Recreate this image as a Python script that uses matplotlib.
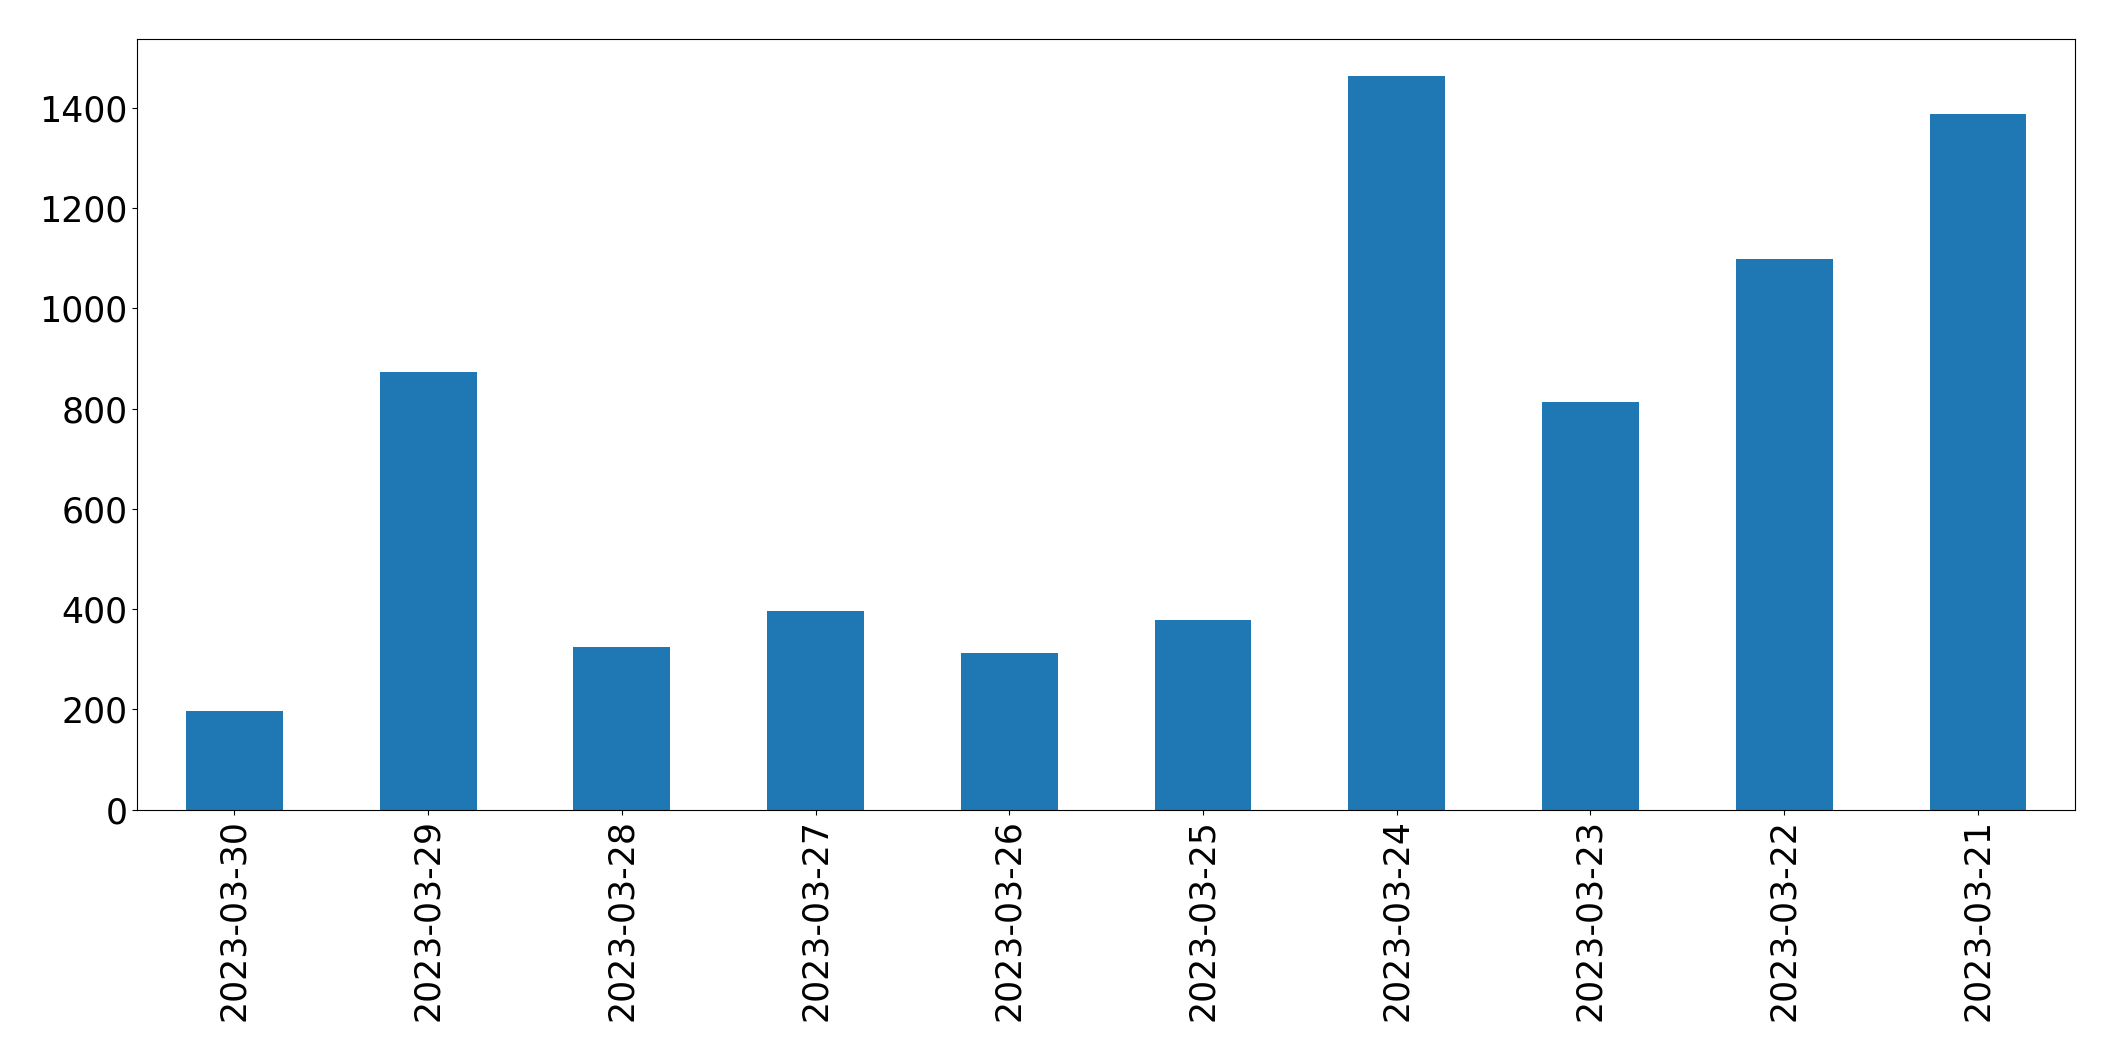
import matplotlib
matplotlib.use("Agg")
import matplotlib.pyplot as plt

dates = ["2023-03-30", "2023-03-29", "2023-03-28", "2023-03-27", "2023-03-26",
         "2023-03-25", "2023-03-24", "2023-03-23", "2023-03-22", "2023-03-21"]
values = [197, 873, 324, 396, 313, 378, 1464, 813, 1099, 1388]

DPI = 100
fig = plt.figure(figsize=(2115 / DPI, 1061 / DPI), dpi=DPI)
ax = fig.add_axes([0.065, 0.237, 0.916, 0.726])
x = list(range(len(dates)))
ax.bar(x, values, width=0.5, color="#1f77b4")
ax.set_xlim(-0.5, len(dates) - 0.5)
ax.set_xticks(x)
ax.set_xticklabels(dates, rotation=90, fontsize=25)
ax.set_yticks([0, 200, 400, 600, 800, 1000, 1200, 1400])
ax.tick_params(axis="y", labelsize=25)
fig.savefig("out.png", dpi=DPI)
